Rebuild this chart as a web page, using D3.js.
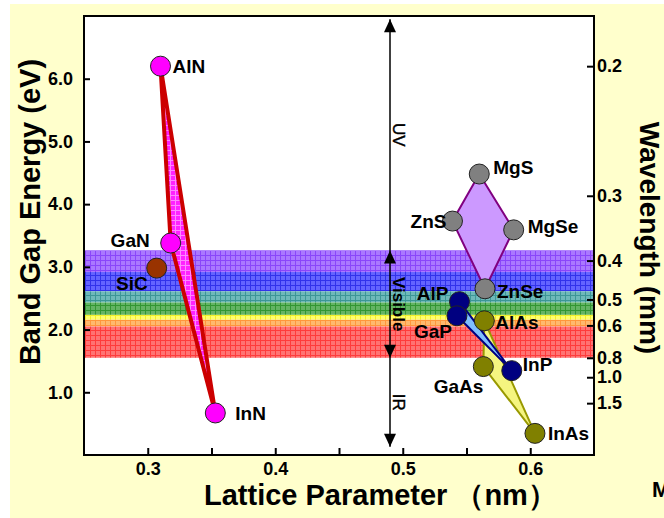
<!DOCTYPE html>
<html>
<head>
<meta charset="utf-8">
<script src="https://cdn.jsdelivr.net/npm/d3@7"></script>
<style>
  body { margin: 0; background: #fff; }
  svg { display: block; font-family: Arial, "Liberation Sans", sans-serif; }
</style>
</head>
<body>
<svg id="chart"></svg>
<script>
const width = 664;
const height = 518;
const margin = { top: 16, right: 70, bottom: 63, left: 84 };

// compounds: lattice parameter (nm) and band gap (eV)
const compounds = ["AlN", "GaN", "InN", "SiC", "MgS", "ZnS", "MgSe", "ZnSe", "AlP", "GaP", "InP", "AlAs", "GaAs", "InAs"];
const lattice = [0.310, 0.318, 0.353, 0.307, 0.560, 0.539, 0.587, 0.5645, 0.5445, 0.5425, 0.5855, 0.564, 0.5632, 0.6037];
const bandGap = [6.2, 3.38, 0.67, 2.98, 4.48, 3.73, 3.59, 2.65, 2.445, 2.22, 1.345, 2.14, 1.41, 0.345];

// alloy systems drawn as filled polygons
const alloys = [
  ["AlN", "GaN", "InN"],
  ["MgS", "MgSe", "ZnSe", "ZnS"],
  ["AlAs", "GaAs", "InAs"],
  ["AlP", "GaP", "InP"]
];

// visible spectrum bands (nm)
const bandEdges = [380, 425, 475, 510, 555, 575, 605, 800];

// axis ticks
const gapTicks = [1, 2, 3, 4, 5, 6];
const latticeTicks = [0.3, 0.35, 0.4, 0.45, 0.5, 0.55, 0.6];
const wavelengthTicks = [0.2, 0.3, 0.4, 0.5, 0.6, 0.8, 1.0, 1.5];

// spectral regions: [label, top eV, bottom eV]
const regions = [["UV", 6.95, 3.26], ["Visible", 3.26, 1.55], ["IR", 1.55, 0.13]];
const regionLattice = 0.49;

// styles
const dotColor = {
  AlN: "#ff00ff", GaN: "#ff00ff", InN: "#ff00ff", SiC: "#993300",
  MgS: "#808080", ZnS: "#808080", MgSe: "#808080", ZnSe: "#808080",
  AlP: "#000080", GaP: "#000080", InP: "#000080",
  AlAs: "#808000", GaAs: "#808000", InAs: "#808000"
};
const alloyStyle = [
  { fill: "url(#pat-nitride)", stroke: "#cc0000", width: 4 },
  { fill: "#cc99ff", stroke: "#800080", width: 2 },
  { fill: "#f5f580", stroke: "#999900", width: 2 },
  { fill: "#7fbfff", stroke: "#000080", width: 2 }
];
const bandFill = [
  ["#aa78ff", "#8a46fa"], ["#6464ff", "#3232eb"], ["#6eb9b9", "#3c9696"],
  ["#64b464", "#329632"], ["#ffff6e", "#f0f028"], ["#ffb96e", "#ff963c"], ["#ff7373", "#ff3c3c"]
];
const labelPos = {
  AlN: [12, 0, "start"], GaN: [-21, -3, "end"], InN: [20, 0, "start"], SiC: [-9, 15, "end"],
  MgS: [14, -7, "start"], ZnS: [-6, 0, "end"], MgSe: [14, -4, "start"], ZnSe: [12, 2, "start"],
  AlP: [-11, -9, "end"], GaP: [-5, 15, "end"], InP: [11, -6, "start"],
  AlAs: [11, 1, "start"], GaAs: [0, 20, "end"], InAs: [13, 0, "start"]
};

const x = d3.scaleLinear().domain([0.25, 0.65]).range([margin.left, width - margin.right]);
const y = d3.scaleLinear().domain([0, 7]).range([height - margin.bottom, margin.top]);
const hc = 1240; // eV*nm

const svg = d3.select("#chart").attr("width", width).attr("height", height);

// patterns
const defs = svg.append("defs");
function gridPattern(id, cell, line) {
  const p = defs.append("pattern").attr("id", id)
    .attr("patternUnits", "userSpaceOnUse").attr("width", 5).attr("height", 5);
  p.append("rect").attr("width", 5).attr("height", 5).attr("fill", cell);
  p.append("path").attr("d", "M0,0.5H5M0.5,0V5").attr("stroke", line).attr("stroke-width", 1);
}
bandFill.forEach((c, i) => gridPattern("pat-band" + i, c[0], c[1]));
gridPattern("pat-nitride", "#ff22ff", "#ff88ff");

// page background
svg.append("rect").attr("x", 10).attr("y", 4).attr("width", width - 10).attr("height", height - 4)
  .attr("fill", "#ffffcc");
svg.append("rect").attr("x", margin.left).attr("y", margin.top)
  .attr("width", width - margin.left - margin.right).attr("height", height - margin.top - margin.bottom)
  .attr("fill", "#fff");

// visible bands
svg.append("g").selectAll("rect")
  .data(d3.range(bandEdges.length - 1))
  .join("rect")
  .attr("x", margin.left)
  .attr("width", width - margin.left - margin.right)
  .attr("y", i => y(hc / bandEdges[i]))
  .attr("height", i => y(hc / bandEdges[i + 1]) - y(hc / bandEdges[i]))
  .attr("fill", i => "url(#pat-band" + i + ")");

// alloy polygons
const pt = name => {
  const i = compounds.indexOf(name);
  return [x(lattice[i]), y(bandGap[i])];
};
svg.append("g").selectAll("path")
  .data(alloys)
  .join("path")
  .attr("d", d => d3.line()(d.map(pt)) + "Z")
  .attr("fill", (d, i) => alloyStyle[i].fill)
  .attr("stroke", (d, i) => alloyStyle[i].stroke)
  .attr("stroke-width", (d, i) => alloyStyle[i].width)
  .attr("stroke-linejoin", "round");

// region arrows
const ax = x(regionLattice);
const arrows = svg.append("g");
arrows.append("line")
  .attr("x1", ax).attr("x2", ax)
  .attr("y1", y(regions[0][1])).attr("y2", y(regions[2][2]))
  .attr("stroke", "#000").attr("stroke-width", 1.5);
const heads = [[regions[0][1], -1], [regions[1][1], -1], [regions[1][2], 1], [regions[2][2], 1]];
arrows.selectAll("path")
  .data(heads)
  .join("path")
  .attr("d", d => {
    const ty = y(d[0]), s = d[1];
    return `M${ax},${ty}L${ax - 6},${ty - s * 13}L${ax + 6},${ty - s * 13}Z`;
  })
  .attr("fill", "#000");
arrows.selectAll("text")
  .data(regions)
  .join("text")
  .attr("transform", d => `translate(${ax + 3},${(y(d[1]) + y(d[2])) / 2}) rotate(90)`)
  .attr("text-anchor", "middle")
  .attr("font-size", 17)
  .attr("font-weight", d => d[0] === "Visible" ? "bold" : "normal")
  .attr("stroke", "#000").attr("stroke-width", d => d[0] === "Visible" ? 0 : 0.4)
  .text(d => d[0]);

// frame
svg.append("rect").attr("x", margin.left).attr("y", margin.top)
  .attr("width", width - margin.left - margin.right).attr("height", height - margin.top - margin.bottom)
  .attr("fill", "none").attr("stroke", "#000").attr("stroke-width", 2);

// axes
function styleAxis(g) {
  g.select(".domain").remove();
  g.selectAll(".tick line").attr("stroke-width", 2);
  g.selectAll("text").attr("font-size", 18).attr("font-weight", "bold")
    .attr("font-family", "Arial, 'Liberation Sans', sans-serif").attr("fill", "#000");
}
svg.append("g")
  .attr("transform", `translate(${margin.left},0)`)
  .call(d3.axisLeft(y).tickValues(gapTicks).tickSize(-6).tickPadding(11).tickFormat(d3.format(".1f")))
  .call(styleAxis);
svg.append("g")
  .attr("transform", `translate(0,${height - margin.bottom})`)
  .call(d3.axisBottom(x).tickValues(latticeTicks).tickSize(-7).tickPadding(7)
    .tickFormat(d => Math.round(d * 100) % 10 === 0 ? d3.format(".1f")(d) : ""))
  .call(styleAxis);
svg.append("g")
  .attr("transform", `translate(${width - margin.right},0)`)
  .call(d3.axisRight(y).tickValues(wavelengthTicks.map(l => hc / 1000 / l)).tickSize(-7).tickPadding(3)
    .tickFormat(d => d3.format(".1f")(hc / 1000 / d)))
  .call(styleAxis);

// points
svg.append("g").selectAll("circle")
  .data(compounds)
  .join("circle")
  .attr("cx", (d, i) => x(lattice[i]))
  .attr("cy", (d, i) => y(bandGap[i]))
  .attr("r", 10)
  .attr("fill", d => dotColor[d])
  .attr("stroke", "#222")
  .attr("stroke-width", 1);

// point labels
svg.append("g").selectAll("text")
  .data(compounds)
  .join("text")
  .attr("x", (d, i) => x(lattice[i]) + labelPos[d][0])
  .attr("y", (d, i) => y(bandGap[i]) + labelPos[d][1])
  .attr("dy", "0.36em")
  .attr("text-anchor", d => labelPos[d][2])
  .attr("font-size", 19)
  .attr("font-weight", "bold")
  .text(d => d);

// axis titles
svg.append("text")
  .attr("transform", "translate(40,212) rotate(-90)")
  .attr("text-anchor", "middle")
  .attr("font-size", 29).attr("font-weight", "bold")
  .text("Band Gap Energy (eV)");
const xTitle = svg.append("text")
  .attr("x", 204).attr("y", 505)
  .attr("font-size", 29).attr("font-weight", "bold");
xTitle.append("tspan").text("Lattice Parameter");
xTitle.append("tspan").attr("dx", 8).text("（nm）");
svg.append("text")
  .attr("transform", "translate(640,238) rotate(90)")
  .attr("text-anchor", "middle")
  .attr("font-size", 28).attr("font-weight", "bold")
  .text("Wavelength (mm)");
svg.append("text")
  .attr("x", 652).attr("y", 497)
  .attr("font-size", 22).attr("font-weight", "bold")
  .text("M");
</script>
</body>
</html>
